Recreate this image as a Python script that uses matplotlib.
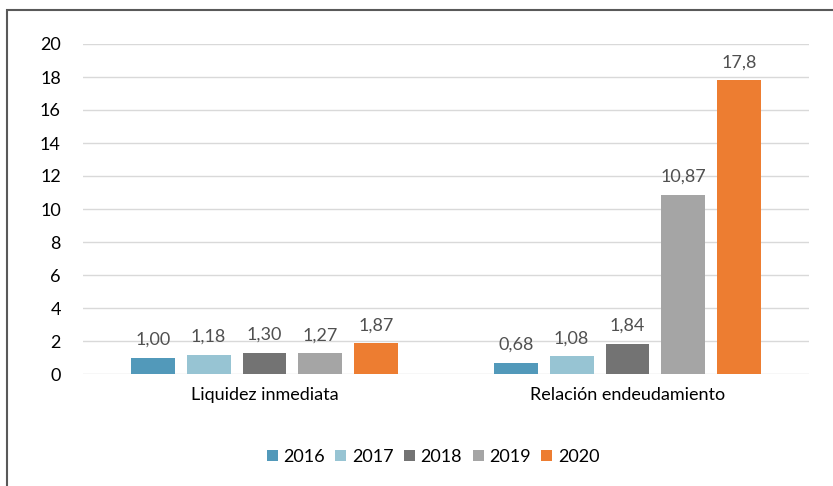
import matplotlib
matplotlib.use("Agg")
import matplotlib.pyplot as plt
import numpy as np
from matplotlib.patches import Rectangle

categories = ["Liquidez inmediata", "Relación endeudamiento"]
years = ["2016", "2017", "2018", "2019", "2020"]
values = {
    "2016": [1.00, 0.68],
    "2017": [1.18, 1.08],
    "2018": [1.30, 1.84],
    "2019": [1.27, 10.87],
    "2020": [1.87, 17.8],
}
labels = {
    "2016": ["1,00", "0,68"],
    "2017": ["1,18", "1,08"],
    "2018": ["1,30", "1,84"],
    "2019": ["1,27", "10,87"],
    "2020": ["1,87", "17,8"],
}
colors = ["#5299BA", "#97C4D3", "#737373", "#A5A5A5", "#ED7D31"]
yticks = list(range(0, 21, 2))

plt.rcParams['font.family'] = ['Lato', 'DejaVu Sans']

fig = plt.figure(figsize=(8.33, 4.86), dpi=100)
ax = fig.add_axes([83/833, 1-374/486, (809-83)/833, (374-44)/486])

x = np.arange(len(categories))
step = 0.154
width = 0.121
for i, yr in enumerate(years):
    pos = x + (i - 2) * step
    bars = ax.bar(pos, values[yr], width=width, color=colors[i], label=yr, zorder=3)
    for b, lab in zip(bars, labels[yr]):
        ax.text(b.get_x() + b.get_width()/2, b.get_height() + 0.6, lab,
                ha='center', va='bottom', fontsize=13, color='#505050')

ax.set_xlim(-0.5, 1.5)
ax.set_ylim(0, 20)
ax.set_yticks(yticks)
ax.set_yticklabels([str(t) for t in yticks], fontsize=13, color='black')
ax.set_xticks(x)
ax.set_xticklabels(categories, fontsize=13, color='black')
ax.tick_params(axis='both', length=0)
ax.tick_params(axis='y', pad=16)
ax.tick_params(axis='x', pad=9)
ax.grid(axis='y', color='#D9D9D9', linewidth=1, zorder=0)
for s in ax.spines.values():
    s.set_visible(False)

leg = fig.legend(loc='center', bbox_to_anchor=(433/833, 1-457/486), ncol=5,
                 frameon=False, fontsize=13, handlelength=0.6, handleheight=0.6,
                 handletextpad=0.3, columnspacing=0.6)

fig.patches.append(Rectangle((7/833, -0.05), 2, 1-10/486+0.05, transform=fig.transFigure,
                             fill=False, edgecolor='#595959', linewidth=1.5))

fig.savefig("out.png", dpi=100)
